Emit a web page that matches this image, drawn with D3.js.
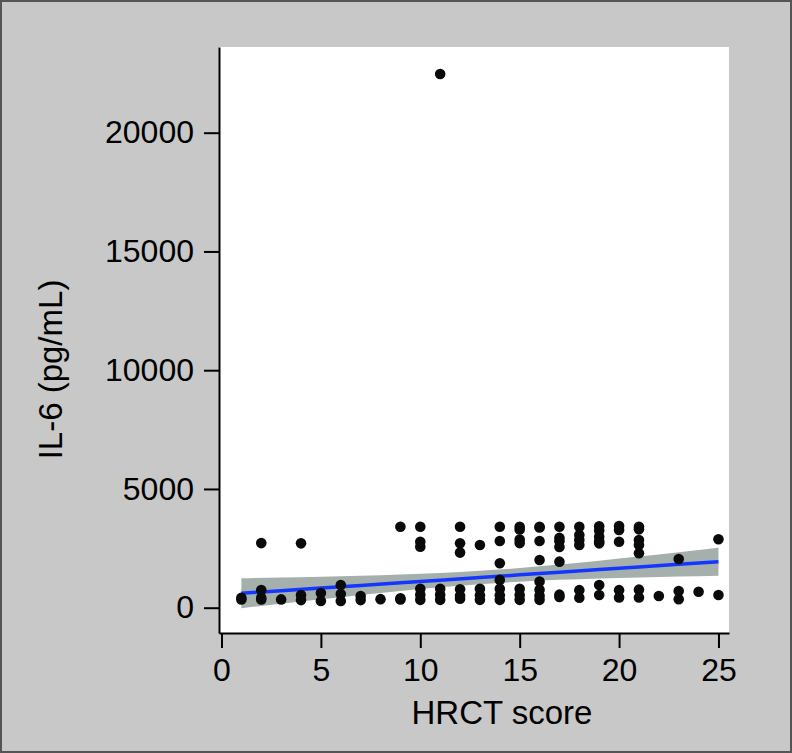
<!DOCTYPE html>
<html>
<head>
<meta charset="utf-8">
<script src="https://cdn.jsdelivr.net/npm/d3@7"></script>
<style>
    html, body { margin: 0; padding: 0; background: #fff; }
    svg { display: block; }
</style>
</head>
<body>
<script>
    // HRCT score vs IL-6, one entry per patient
    const hrctScore = [1,1, 2,2,2,2, 3, 4,4,4, 5,5, 6,6,6, 7,7, 8, 9,9,9,
        10,10,10,10,10,10, 11,11,11,11, 12,12,12,12,12,12, 13,13,13,13,
        14,14,14,14,14,14,14, 15,15,15,15,15,15,15, 16,16,16,16,16,16,16,16,
        17,17,17,17,17,17,17, 18,18,18,18,18,18, 19,19,19,19,19,19,19,
        20,20,20,20,20, 21,21,21,21,21,21,21, 22, 23,23,23, 24, 25,25];
    const il6Level = [350,420, 2720,745,420,350, 350, 2710,535,320, 620,280, 955,577,280, 490,320, 360, 3410,400,350,
        3410,2780,2570,800,550,330, 22470,800,550,330, 3410,2710,2320,780,500,380, 2640,800,520,330,
        3410,2810,1870,1170,800,520,330, 3410,3290,2870,2720,800,540,330, 3410,3380,2810,2010,1100,760,500,330,
        3410,2940,2800,2560,1940,550,450, 3410,3060,2850,2640,740,420, 3430,3250,2990,2800,2710,955,535,
        3440,3270,2780,740,430, 3410,3300,2850,2640,2290,760,430, 490, 2050,700,360, 674, 2880,535];

    // fitted line and its confidence band
    const fitX = [1, 3, 5, 7, 9, 11, 13, 15, 17, 19, 21, 23, 25];
    const fitY = [606, 717, 828, 939, 1050, 1161, 1272, 1383, 1494, 1605, 1716, 1827, 1938];
    const ciLow = [-25, 166, 352, 533, 704, 859, 991, 1095, 1172, 1230, 1276, 1314, 1347];
    const ciHigh = [1237, 1268, 1304, 1345, 1396, 1463, 1553, 1671, 1816, 1980, 2156, 2340, 2529];

    const xTicks = [0, 5, 10, 15, 20, 25];
    const yTicks = [0, 5000, 10000, 15000, 20000];

    const font = '"Liberation Sans", Arial, sans-serif';

    const svg = d3.select('body')
        .append('svg')
        .attr('width', 792)
        .attr('height', 753);

    svg.append('rect')
        .attr('x', 1).attr('y', 1)
        .attr('width', 790).attr('height', 751)
        .attr('fill', '#c8c8c8')
        .attr('stroke', '#555')
        .attr('stroke-width', 2);

    svg.append('rect')
        .attr('x', 219).attr('y', 47)
        .attr('width', 510).attr('height', 586)
        .attr('fill', '#fff');

    const x = d3.scaleLinear().domain([-0.126, 25.53]).range([219, 729]);
    const y = d3.scaleLinear().domain([-1065, 23608]).range([633, 47]);

    // band + fit line
    const fit = fitX.map((d, i) => ({x: d, y: fitY[i], lo: ciLow[i], hi: ciHigh[i]}));

    svg.append('path')
        .datum(fit)
        .attr('fill', '#a5b0ad')
        .attr('d', d3.area()
            .x(d => x(d.x))
            .y0(d => y(d.lo))
            .y1(d => y(d.hi))
            .curve(d3.curveMonotoneX));

    svg.append('path')
        .datum(fit)
        .attr('fill', 'none')
        .attr('stroke', '#1437ff')
        .attr('stroke-width', 3.5)
        .attr('d', d3.line()
            .x(d => x(d.x))
            .y(d => y(d.y)));

    const points = hrctScore.map((d, i) => ({score: d, il6: il6Level[i]}));

    svg.selectAll('.dot')
        .data(points)
        .enter()
        .append('circle')
        .attr('class', 'dot')
        .attr('cx', d => x(d.score))
        .attr('cy', d => y(d.il6))
        .attr('r', 5.3)
        .attr('fill', '#0a0a0a');

    // axes
    const xAxis = svg.append('g')
        .attr('transform', 'translate(0,633)')
        .call(d3.axisBottom(x).tickValues(xTicks).tickSize(15).tickPadding(10).tickSizeOuter(0));

    const yAxis = svg.append('g')
        .attr('transform', 'translate(219,0)')
        .call(d3.axisLeft(y).tickValues(yTicks).tickFormat(d3.format('d'))
            .tickSize(15).tickPadding(10).tickSizeOuter(0));

    [xAxis, yAxis].forEach(g => {
        g.selectAll('path, line').attr('stroke', '#000').attr('stroke-width', 2);
        g.selectAll('text')
            .attr('fill', '#000')
            .style('font-family', font)
            .style('font-size', '32px');
    });

    svg.append('text')
        .attr('x', 502)
        .attr('y', 724)
        .attr('text-anchor', 'middle')
        .style('font-family', font)
        .style('font-size', '33px')
        .text('HRCT score');

    svg.append('text')
        .attr('transform', 'translate(62,369.5)rotate(-90)')
        .attr('text-anchor', 'middle')
        .style('font-family', font)
        .style('font-size', '33px')
        .text('IL-6 (pg/mL)');
</script>
</body>
</html>
